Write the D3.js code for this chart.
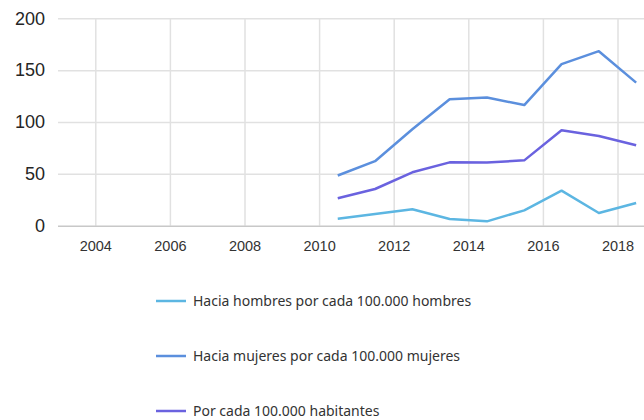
<!DOCTYPE html>
<html><head><meta charset="utf-8">
<script src="https://cdn.jsdelivr.net/npm/d3@7/dist/d3.min.js"></script>
<style>
html,body{margin:0;padding:0;background:#fff;}
svg{display:block;font-family:"Noto Sans","Open Sans",sans-serif;}
</style></head>
<body>
<svg id="chart" width="644" height="420"></svg>
<script>
const years = [2010.5, 2011.5, 2012.5, 2013.5, 2014.5, 2015.5, 2016.5, 2017.5, 2018.5];
const hombres = [6.8, 11.3, 15.8, 6.5, 4.2, 14.8, 33.8, 12.2, 21.9];
const mujeres = [48.4, 62.2, 93, 122, 123.7, 116.3, 155.8, 168.3, 138];
const habitantes = [26.4, 35.4, 51.5, 61.1, 61, 63, 92, 86.5, 77.5];
const seriesNames = ["Hacia hombres por cada 100.000 hombres", "Hacia mujeres por cada 100.000 mujeres", "Por cada 100.000 habitantes"];
const xTicks = [2004, 2006, 2008, 2010, 2012, 2014, 2016, 2018];
const yTicks = [0, 50, 100, 150, 200];

(function () {
const colors = ["#5cb6e2", "#5b8fdd", "#6a62df"];
const series = [hombres, mujeres, habitantes];

const svg = d3.select("#chart");
const mLeft = 58, mRight = 644, mTop = 18.3, mBottom = 225.7;
const x = d3.scaleLinear().domain([2003, 2018.7]).range([mLeft, mLeft + (2018.7 - 2003) * 37.3]);
const y = d3.scaleLinear().domain([0, 200]).range([mBottom, mTop]);

const xAxis = d3.axisBottom(x).tickValues(xTicks).tickFormat(d3.format("d")).tickSize(-(mBottom - mTop)).tickPadding(15);
const gx = svg.append("g").attr("transform", `translate(0,${mBottom})`).call(xAxis);
gx.select(".domain").remove();
gx.selectAll(".tick line").attr("stroke", "#e1e1e1").attr("stroke-width", 1.5);
gx.selectAll(".tick text").attr("font-size", 14.5).attr("fill", "#333").attr("font-family", null);

const yAxis = d3.axisLeft(y).tickValues(yTicks).tickSize(-(mRight - mLeft)).tickPadding(13);
const gy = svg.append("g").attr("transform", `translate(${mLeft},0)`).call(yAxis);
gy.select(".domain").remove();
gy.selectAll(".tick line").attr("stroke", d => d === 0 ? "#c8c8c8" : "#e1e1e1").attr("stroke-width", 1.5);
gy.selectAll(".tick text").attr("font-size", 18).attr("fill", "#252525").attr("font-family", null);

const line = d3.line().x((d, i) => x(years[i])).y(d => y(d));
series.forEach((s, k) => {
  svg.append("path").datum(s).attr("d", line).attr("fill", "none")
    .attr("stroke", colors[k]).attr("stroke-width", 2.5).attr("stroke-linejoin", "round");
});

const legY = [301, 356, 411];
seriesNames.forEach((n, k) => {
  const g = svg.append("g").attr("transform", `translate(156,${legY[k]})`);
  g.append("line").attr("x1", 0).attr("x2", 30).attr("y1", 0).attr("y2", 0)
    .attr("stroke", colors[k]).attr("stroke-width", 2.5);
  g.append("text").attr("x", 37).attr("y", 0).attr("dy", "0.35em")
    .attr("font-size", 14).attr("fill", "#333").text(n);
});
})();
</script>
</body></html>
